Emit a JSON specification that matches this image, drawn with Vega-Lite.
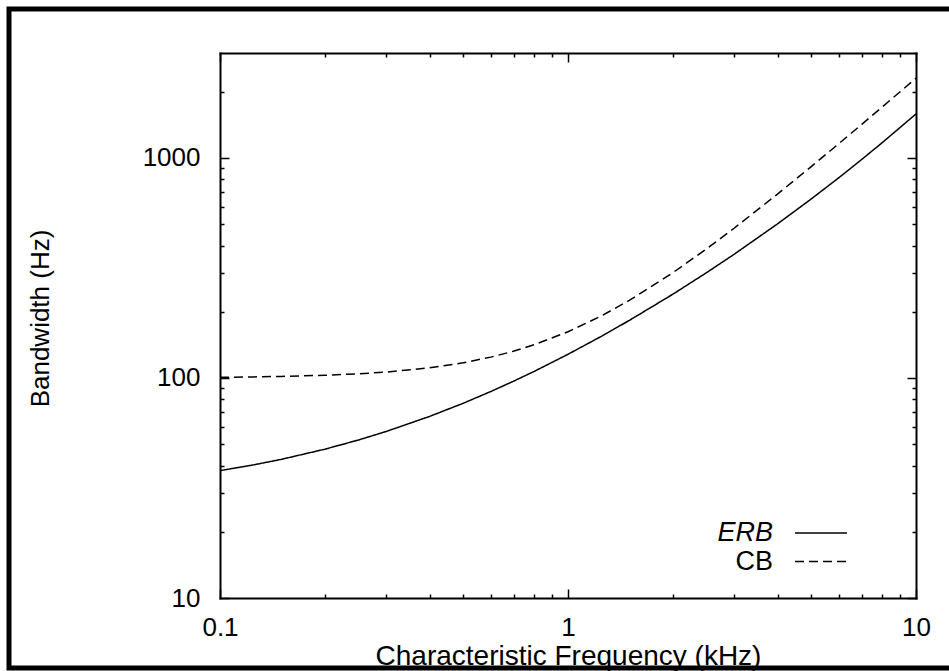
{
  "$schema": "https://vega.github.io/schema/vega-lite/v6.json",
  "width": 946,
  "height": 659,
  "autosize": "none",
  "padding": {"left": 9, "top": 9, "right": -6, "bottom": 3},
  "background": "white",
  "data": {
    "values": [
      {"F": 0.1, "BW": 37.92, "curve": "ERB"},
      {"F": 0.125, "BW": 40.29, "curve": "ERB"},
      {"F": 0.15, "BW": 42.67, "curve": "ERB"},
      {"F": 0.2, "BW": 47.45, "curve": "ERB"},
      {"F": 0.25, "BW": 52.26, "curve": "ERB"},
      {"F": 0.3, "BW": 57.10, "curve": "ERB"},
      {"F": 0.4, "BW": 66.87, "curve": "ERB"},
      {"F": 0.5, "BW": 76.77, "curve": "ERB"},
      {"F": 0.6, "BW": 86.80, "curve": "ERB"},
      {"F": 0.7, "BW": 96.95, "curve": "ERB"},
      {"F": 0.8, "BW": 107.22, "curve": "ERB"},
      {"F": 1, "BW": 128.14, "curve": "ERB"},
      {"F": 1.25, "BW": 154.99, "curve": "ERB"},
      {"F": 1.5, "BW": 182.62, "curve": "ERB"},
      {"F": 2, "BW": 240.22, "curve": "ERB"},
      {"F": 2.5, "BW": 300.93, "curve": "ERB"},
      {"F": 3, "BW": 364.76, "curve": "ERB"},
      {"F": 4, "BW": 501.76, "curve": "ERB"},
      {"F": 5, "BW": 651.22, "curve": "ERB"},
      {"F": 6, "BW": 813.14, "curve": "ERB"},
      {"F": 7, "BW": 987.52, "curve": "ERB"},
      {"F": 8, "BW": 1174.36, "curve": "ERB"},
      {"F": 10, "BW": 1585.42, "curve": "ERB"},
      {"F": 0.1, "BW": 100.72, "curve": "CB"},
      {"F": 0.125, "BW": 101.13, "curve": "CB"},
      {"F": 0.15, "BW": 101.62, "curve": "CB"},
      {"F": 0.2, "BW": 102.87, "curve": "CB"},
      {"F": 0.25, "BW": 104.47, "curve": "CB"},
      {"F": 0.3, "BW": 106.40, "curve": "CB"},
      {"F": 0.4, "BW": 111.22, "curve": "CB"},
      {"F": 0.5, "BW": 117.26, "curve": "CB"},
      {"F": 0.6, "BW": 124.39, "curve": "CB"},
      {"F": 0.7, "BW": 132.54, "curve": "CB"},
      {"F": 0.8, "BW": 141.62, "curve": "CB"},
      {"F": 1, "BW": 162.22, "curve": "CB"},
      {"F": 1.25, "BW": 191.89, "curve": "CB"},
      {"F": 1.5, "BW": 225.23, "curve": "CB"},
      {"F": 2, "BW": 300.77, "curve": "CB"},
      {"F": 2.5, "BW": 385.97, "curve": "CB"},
      {"F": 3, "BW": 479.15, "curve": "CB"},
      {"F": 4, "BW": 685.42, "curve": "CB"},
      {"F": 5, "BW": 914.04, "curve": "CB"},
      {"F": 6, "BW": 1161.65, "curve": "CB"},
      {"F": 7, "BW": 1426.08, "curve": "CB"},
      {"F": 8, "BW": 1705.66, "curve": "CB"},
      {"F": 10, "BW": 2305.46, "curve": "CB"}
    ]
  },
  "layer": [
    {
      "transform": [{"filter": "datum.curve == 'ERB'"}],
      "mark": {"type": "line", "color": "black", "strokeWidth": 1.5, "clip": true},
      "encoding": {
        "x": {
          "field": "F", "type": "quantitative",
          "scale": {"type": "log", "domain": [0.1, 10], "range": [211, 907], "nice": false},
          "axis": {
            "orient": "bottom", "offset": -70,
            "values": [0.1, 1, 10],
            "labelExpr": "'' + datum.value",
            "tickSize": -9,
            "labelPadding": 25,
            "title": "Characteristic Frequency (kHz)",
            "titleFontSize": 28,
            "titlePadding": 0, "minExtent": 44, "maxExtent": 44
          }
        },
        "y": {
          "field": "BW", "type": "quantitative",
          "scale": {"type": "log", "domain": [10, 3000], "range": [589, 44], "nice": false},
          "axis": {
            "orient": "left", "offset": -211,
            "values": [10, 100, 1000],
            "labelExpr": "'' + datum.value",
            "tickSize": -9,
            "labelPadding": 29,
            "title": "Bandwidth (Hz)",
            "titleFontSize": 26,
            "titleY": 309,
            "titlePadding": 87, "minExtent": 80, "maxExtent": 80
          }
        },
        "strokeDash": {
          "field": "curve", "type": "nominal",
          "scale": {"domain": ["ERB", "CB"], "range": [[1, 0], [9, 5]]},
          "legend": {
            "orient": "none", "legendX": 798, "legendY": 510,
            "title": null,
            "symbolType": "M-2,0H2", "symbolSize": 676, "symbolStrokeWidth": 1.5, "symbolStrokeColor": "black",
            "labelFontSize": 27, "labelAlign": "right", "labelOffset": -62, "labelColor": "black",
            "rowPadding": 1.5, "padding": 0,
            "encode": {"labels": {"update": {"fontStyle": {"signal": "datum.label == 'ERB' ? 'italic' : 'normal'"}}}}
          }
        }
      }
    },
    {
      "transform": [{"filter": "datum.curve == 'CB'"}],
      "mark": {"type": "line", "color": "black", "strokeWidth": 1.5, "clip": true},
      "encoding": {
        "x": {
          "field": "F", "type": "quantitative",
          "scale": {"type": "log", "domain": [0.1, 10], "range": [211, 907], "nice": false},
          "axis": {
            "orient": "top", "offset": -44,
            "values": [0.1, 1, 10],
            "labels": false, "title": null,
            "tickSize": -9
          }
        },
        "y": {
          "field": "BW", "type": "quantitative",
          "scale": {"type": "log", "domain": [10, 3000], "range": [589, 44], "nice": false},
          "axis": {
            "orient": "right", "offset": -39,
            "values": [10, 100, 1000],
            "labels": false, "title": null,
            "tickSize": -9
          }
        },
        "strokeDash": {
          "field": "curve", "type": "nominal",
          "scale": {"domain": ["ERB", "CB"], "range": [[1, 0], [9, 5]]}
        }
      }
    },
    {
      "transform": [{"filter": "datum.curve == 'ERB'"}],
      "mark": {"type": "line", "opacity": 0},
      "encoding": {
        "x": {
          "field": "F", "type": "quantitative",
          "scale": {"type": "log", "domain": [0.1, 10], "range": [211, 907], "nice": false},
          "axis": {
            "orient": "bottom", "offset": -70,
            "values": [0.2, 0.3, 0.4, 0.5, 0.6, 0.7, 0.8, 0.9, 2, 3, 4, 5, 6, 7, 8, 9],
            "labels": false, "title": null, "domain": false,
            "tickSize": -4
          }
        },
        "y": {
          "field": "BW", "type": "quantitative",
          "scale": {"type": "log", "domain": [10, 3000], "range": [589, 44], "nice": false},
          "axis": {
            "orient": "left", "offset": -211,
            "values": [20, 30, 40, 50, 60, 70, 80, 90, 200, 300, 400, 500, 600, 700, 800, 900, 2000],
            "labels": false, "title": null, "domain": false,
            "tickSize": -4
          }
        }
      }
    },
    {
      "transform": [{"filter": "datum.curve == 'CB'"}],
      "mark": {"type": "line", "opacity": 0},
      "encoding": {
        "x": {
          "field": "F", "type": "quantitative",
          "scale": {"type": "log", "domain": [0.1, 10], "range": [211, 907], "nice": false},
          "axis": {
            "orient": "top", "offset": -44,
            "values": [0.2, 0.3, 0.4, 0.5, 0.6, 0.7, 0.8, 0.9, 2, 3, 4, 5, 6, 7, 8, 9],
            "labels": false, "title": null, "domain": false,
            "tickSize": -4
          }
        },
        "y": {
          "field": "BW", "type": "quantitative",
          "scale": {"type": "log", "domain": [10, 3000], "range": [589, 44], "nice": false},
          "axis": {
            "orient": "right", "offset": -39,
            "values": [20, 30, 40, 50, 60, 70, 80, 90, 200, 300, 400, 500, 600, 700, 800, 900, 2000],
            "labels": false, "title": null, "domain": false,
            "tickSize": -4
          }
        }
      }
    }
  ],
  "resolve": {"axis": {"x": "independent", "y": "independent"}},
  "config": {
    "font": "Liberation Sans",
    "view": {"stroke": "black", "strokeWidth": 5},
    "axis": {
      "grid": false,
      "domainColor": "black", "domainWidth": 2, "domainCap": "square",
      "tickColor": "black", "tickWidth": 1.5,
      "labelColor": "black", "labelFontSize": 26, "labelFont": "Liberation Sans",
      "labelFlush": false, "labelOverlap": false, "labelBound": false,
      "titleColor": "black", "titleFontSize": 27, "titleFontWeight": "normal", "titleFont": "Liberation Sans"
    },
    "legend": {"labelFont": "Liberation Sans"}
  }
}
